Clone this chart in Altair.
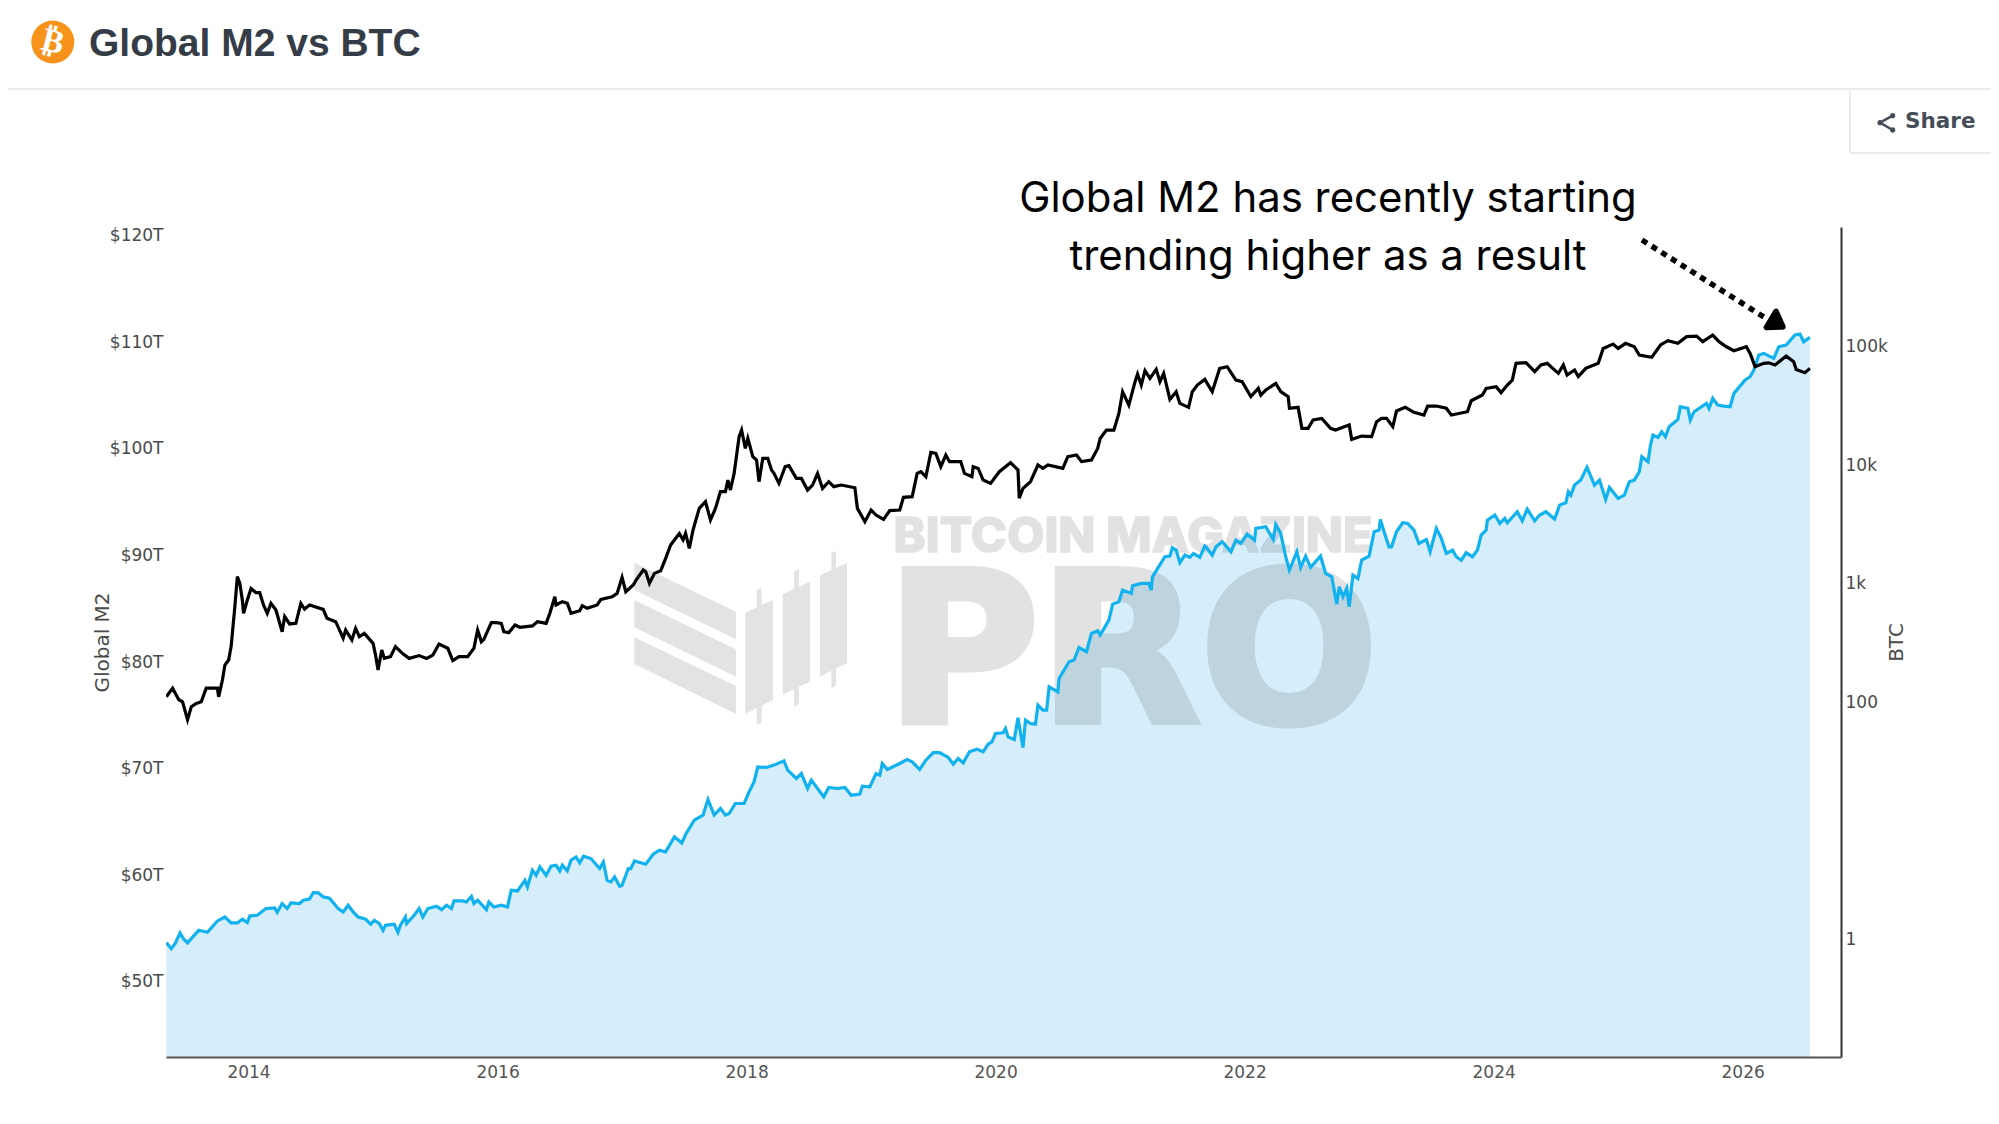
import altair as alt
import pandas as pd

# Global M2 in trillions of dollars
m2_years = [2013.34,2013.38,2013.41,2013.45,2013.48,2013.51,2013.54,2013.60,2013.67,2013.75,2013.81,2013.86,2013.91,2013.95,2013.99,
2014.01,2014.07,2014.14,2014.21,2014.23,2014.27,2014.31,2014.34,2014.41,2014.44,2014.49,2014.52,2014.56,2014.60,2014.65,2014.72,2014.76,2014.80,2014.84,2014.88,2014.94,2014.98,
2015.01,2015.05,2015.08,2015.10,2015.17,2015.20,2015.22,2015.26,2015.27,2015.33,2015.37,2015.40,2015.44,2015.51,2015.55,2015.59,2015.63,2015.65,2015.72,2015.75,2015.79,2015.81,2015.84,2015.91,2015.93,2015.97,
2016.03,2016.08,2016.11,2016.16,2016.22,2016.24,2016.28,2016.31,2016.34,2016.39,2016.43,2016.47,2016.50,2016.52,2016.56,2016.59,2016.63,2016.66,2016.69,2016.75,2016.82,2016.85,2016.88,2016.91,2016.94,2016.98,
2017.00,2017.05,2017.07,2017.10,2017.19,2017.25,2017.30,2017.35,2017.42,2017.48,2017.51,2017.58,2017.65,2017.69,2017.74,2017.79,2017.83,2017.86,2017.91,2017.98,
2018.02,2018.06,2018.09,2018.16,2018.22,2018.30,2018.33,2018.40,2018.44,2018.49,2018.52,2018.57,2018.62,2018.66,2018.73,2018.79,2018.84,2018.91,2018.93,2018.99,
2019.04,2019.07,2019.09,2019.13,2019.23,2019.29,2019.33,2019.39,2019.44,2019.50,2019.55,2019.62,2019.66,2019.70,2019.74,2019.79,2019.85,2019.90,2019.94,2019.97,
2020.00,2020.06,2020.08,2020.10,2020.15,2020.18,2020.22,2020.24,2020.28,2020.32,2020.34,2020.38,2020.41,2020.43,2020.50,2020.51,2020.59,2020.63,2020.67,2020.73,2020.77,2020.82,2020.84,2020.91,2020.94,2020.99,
2021.02,2021.09,2021.10,2021.17,2021.23,2021.25,2021.26,2021.36,2021.40,2021.42,2021.45,2021.48,2021.52,2021.56,2021.59,2021.64,2021.68,2021.69,2021.74,2021.77,2021.82,2021.89,2021.93,2021.97,
2022.02,2022.08,2022.09,2022.17,2022.23,2022.25,2022.29,2022.33,2022.36,2022.42,2022.45,2022.49,2022.53,2022.61,2022.65,2022.70,2022.74,2022.76,2022.79,2022.82,2022.84,2022.87,2022.91,2022.94,
2023.00,2023.04,2023.08,2023.09,2023.12,2023.16,2023.18,2023.22,2023.27,2023.31,2023.36,2023.40,2023.46,2023.49,2023.54,2023.58,2023.62,2023.67,2023.70,2023.74,2023.78,2023.83,2023.87,2023.90,2023.94,2023.95,
2024.01,2024.05,2024.09,2024.11,2024.19,2024.23,2024.27,2024.33,2024.37,2024.42,2024.49,2024.53,2024.58,2024.60,2024.62,2024.65,2024.70,2024.75,2024.81,2024.85,2024.90,2024.93,
2025.00,2025.05,2025.09,2025.13,2025.17,2025.19,2025.24,2025.26,2025.28,2025.32,2025.35,2025.38,2025.41,2025.48,2025.50,2025.56,2025.58,2025.61,2025.71,2025.73,2025.76,2025.80,2025.85,2025.90,2025.93,
2026.02,2026.06,2026.09,2026.13,2026.17,2026.25,2026.29,2026.35,2026.42,2026.46,2026.49,2026.54]
m2_values = [53.60,53.03,53.50,54.50,53.91,53.57,53.97,54.75,54.57,55.63,56.00,55.44,55.44,55.79,55.47,
56.10,56.16,56.79,56.85,56.44,57.26,56.79,57.32,57.26,57.57,57.69,58.29,58.26,57.88,57.76,56.79,56.47,57.10,56.47,56.00,55.79,55.32,
55.69,55.38,54.75,55.22,55.32,54.57,55.22,56.00,55.38,56.16,56.79,56.00,56.79,57.01,56.69,57.10,56.79,57.51,57.51,57.41,57.94,57.26,57.57,56.69,57.41,56.94,
57.10,56.94,58.51,58.44,59.44,58.82,60.38,59.91,60.70,59.91,60.76,60.85,60.32,60.85,60.32,61.32,61.63,61.07,61.70,61.48,60.54,61.16,59.44,59.29,59.76,58.88,
58.98,60.54,60.54,61.26,60.95,61.88,62.26,62.10,63.51,62.95,63.73,65.08,65.55,67.01,65.55,66.17,65.55,65.70,66.64,66.64,
67.73,68.67,70.08,70.02,70.24,70.64,69.77,68.99,69.45,68.05,68.83,68.05,67.27,68.14,68.05,68.14,67.42,67.52,68.27,68.20,
69.45,69.30,70.39,69.83,70.39,70.77,70.55,69.83,70.70,71.42,71.42,70.96,70.33,70.86,70.45,71.49,71.74,71.49,72.21,72.42,
73.21,73.27,73.68,72.89,72.64,74.68,71.89,74.46,74.14,74.08,75.86,75.40,75.40,77.58,77.11,78.37,79.93,80.09,81.27,80.87,82.59,82.84,82.43,83.84,85.34,85.56,
86.65,86.34,87.06,87.28,87.28,86.65,87.90,89.78,89.84,90.62,90.40,89.22,89.94,89.72,90.09,89.72,90.78,90.71,89.93,90.71,91.18,90.25,91.34,91.03,
91.90,91.34,92.43,92.59,91.40,92.81,91.97,89.78,88.53,90.25,88.78,89.84,88.78,89.84,88.21,87.90,85.34,86.96,86.02,86.81,85.09,88.06,87.74,89.46,
89.84,92.12,92.28,93.28,92.12,90.71,90.71,92.12,92.97,92.90,92.28,91.03,91.40,90.25,92.43,91.50,90.09,90.40,89.78,89.46,90.15,89.78,90.40,91.81,92.28,93.22,
93.69,92.90,93.37,92.97,94.00,93.15,94.25,93.15,93.69,94.00,93.31,94.62,94.84,95.87,95.56,96.50,96.97,98.16,96.50,96.97,95.16,96.28,
95.25,95.56,96.81,96.97,97.75,99.16,98.69,100.25,101.19,100.97,101.50,101.03,101.97,102.66,103.85,103.69,102.60,103.38,104.16,103.69,104.63,104.00,103.91,103.85,105.10,
106.35,106.66,107.30,108.69,108.85,108.38,109.47,109.63,110.57,110.66,109.94,110.35]

# BTC price in dollars
btc_years = [2013.34,2013.39,2013.44,2013.47,2013.51,2013.54,2013.58,2013.62,2013.66,2013.75,2013.76,2013.79,2013.81,2013.84,2013.86,2013.89,2013.91,2013.93,2013.95,2013.96,2013.99,
2014.02,2014.06,2014.09,2014.12,2014.15,2014.18,2014.22,2014.27,2014.29,2014.33,2014.38,2014.42,2014.45,2014.49,2014.60,2014.63,2014.70,2014.76,2014.78,2014.83,2014.86,2014.89,2014.93,
2015.00,2015.02,2015.04,2015.07,2015.09,2015.14,2015.18,2015.24,2015.29,2015.37,2015.43,2015.48,2015.53,2015.60,2015.64,2015.69,2015.76,2015.81,2015.84,2015.87,2015.89,2015.95,2015.99,
2016.03,2016.05,2016.09,2016.14,2016.18,2016.28,2016.32,2016.39,2016.42,2016.46,2016.47,2016.52,2016.56,2016.59,2016.66,2016.68,2016.72,2016.80,2016.83,2016.92,2016.96,
2017.00,2017.03,2017.09,2017.11,2017.17,2017.19,2017.22,2017.26,2017.31,2017.35,2017.39,2017.42,2017.46,2017.49,2017.51,2017.54,2017.57,2017.62,2017.67,2017.71,2017.75,2017.79,2017.83,2017.85,2017.87,2017.90,2017.94,2017.96,2017.99,
2018.01,2018.05,2018.08,2018.10,2018.13,2018.17,2018.20,2018.22,2018.26,2018.31,2018.34,2018.40,2018.44,2018.49,2018.53,2018.57,2018.61,2018.66,2018.70,2018.76,2018.87,2018.89,2018.92,2018.95,
2019.00,2019.04,2019.10,2019.15,2019.23,2019.26,2019.33,2019.37,2019.40,2019.44,2019.48,2019.52,2019.56,2019.60,2019.63,2019.72,2019.75,2019.81,2019.82,2019.86,2019.90,2019.96,
2020.03,2020.12,2020.18,2020.19,2020.22,2020.28,2020.34,2020.38,2020.42,2020.54,2020.58,2020.65,2020.69,2020.77,2020.82,2020.84,2020.89,2020.95,2020.99,
2021.02,2021.07,2021.12,2021.14,2021.17,2021.20,2021.24,2021.29,2021.32,2021.35,2021.40,2021.45,2021.48,2021.55,2021.58,2021.62,2021.68,2021.74,2021.80,2021.86,2021.93,2021.98,
2022.05,2022.11,2022.13,2022.17,2022.25,2022.29,2022.35,2022.36,2022.43,2022.46,2022.51,2022.55,2022.62,2022.69,2022.73,2022.84,2022.86,2022.94,
2023.02,2023.06,2023.10,2023.14,2023.19,2023.22,2023.29,2023.36,2023.44,2023.47,2023.54,2023.62,2023.66,2023.79,2023.82,2023.91,2023.94,
2024.02,2024.06,2024.11,2024.15,2024.18,2024.26,2024.33,2024.38,2024.43,2024.52,2024.56,2024.59,2024.65,2024.68,2024.74,2024.84,2024.88,2024.96,
2025.00,2025.06,2025.13,2025.17,2025.27,2025.34,2025.40,2025.48,2025.55,2025.63,2025.68,2025.76,2025.81,2025.87,2025.93,
2026.03,2026.06,2026.10,2026.17,2026.21,2026.26,2026.35,2026.41,2026.43,2026.50,2026.54]
btc_values = [109,129,103,99,70,90,96,99,129,129,109,151,202,223,289,628,1125,988,714,552,714,
895,824,824,649,552,670,589,386,518,449,454,670,600,649,596,501,469,340,399,329,412,351,374,
308,245,184,271,230,238,289,251,230,243,230,245,304,280,220,238,238,280,399,318,333,460,460,
454,386,379,440,421,432,469,454,552,762,649,692,670,552,581,640,608,649,724,762,813,
1109,840,957,1040,1279,1239,988,1199,1262,1603,2080,2291,2600,2300,2606,1950,2786,4236,4820,3381,4236,5861,5861,7345,6053,8356,17020,19410,13580,
16480,11560,10840,7112,11190,11190,8913,8356,6887,9528,9705,7586,7586,6053,6668,8356,6252,7112,6457,6668,6324,4236,3724,3273,
4102,3724,3420,4055,4102,5248,5321,8356,8630,7834,12560,12330,9528,11940,10500,10500,8356,7834,9528,9204,7345,6887,
8630,10280,8913,5152,6252,7112,9840,9204,9840,9204,11560,11940,10500,10840,13580,16480,19360,19360,26790,
40830,31480,49550,57540,46450,61380,52840,62950,49550,58210,35160,40830,32510,30130,40830,46450,51880,40830,64270,66370,51170,49550,
37070,43550,38280,42170,47970,40830,37070,29580,30130,20040,20040,23550,24320,20040,19410,21380,16180,17260,
17060,22800,24320,24320,20700,28050,30130,27350,25940,30900,30900,29580,25940,27670,34280,38280,43550,
44980,40090,46450,51170,70790,71780,60260,68550,70790,58340,68550,56490,62230,54700,64270,70790,94620,103000,
94620,104500,97720,83180,79620,101200,109900,104500,118900,120200,107900,122700,107900,97720,90570,
97830,85900,66370,70790,71500,68500,81500,73100,62900,59000,64200]

m2_ticks = [50,60,70,80,90,100,110,120]
btc_ticks = [1,100,1000,10000,100000]
year_ticks = [2014,2016,2018,2020,2022,2024,2026]

title_text = "Global M2 vs BTC"
note_lines = ["Global M2 has recently starting", "trending higher as a result"]

LEFT, TOP, W, H = 166, 227, 1675, 830
YEAR_DOMAIN = [2013.337, 2026.79]
M2_DOMAIN = [42.87, 120.7]
BTC_DOMAIN = [0.1, 1000000]
LABEL = "#4a4a4a"

m2_df = pd.DataFrame({"year": m2_years, "m2": m2_values})
btc_df = pd.DataFrame({"year": btc_years, "btc": btc_values})

x_enc = alt.X("year:Q", scale=alt.Scale(domain=YEAR_DOMAIN, nice=False, zero=False), title=None,
              axis=alt.Axis(values=year_ticks, format="d", grid=False, ticks=False, labelFontSize=17,
                            labelColor="#555555", labelPadding=7, domainColor="#555555", domainWidth=2,
                            labelFlush=False, zindex=1))
m2_scale = alt.Scale(domain=M2_DOMAIN, nice=False, zero=False)

area = alt.Chart(m2_df).mark_area(color="#d6eefb", clip=True).encode(
    x=x_enc,
    y=alt.Y("m2:Q", scale=m2_scale, title="Global M2",
            axis=alt.Axis(values=m2_ticks, labelExpr="'$' + datum.value + 'T'", grid=False, ticks=False, domain=False,
                          labelFontSize=17, labelColor=LABEL, labelPadding=3, labelOffset=1, titleFontSize=20,
                          titleFontWeight="normal", titleColor=LABEL, titlePadding=-3)),
    y2=alt.value(H),
)
blue_line = alt.Chart(m2_df).mark_line(color="#12b2ee", strokeWidth=3.2, clip=True).encode(
    x=x_enc, y=alt.Y("m2:Q", scale=m2_scale, axis=None))
black_line = alt.Chart(btc_df).mark_line(color="#000000", strokeWidth=3.2, clip=True).encode(
    x=x_enc,
    y=alt.Y("btc:Q", scale=alt.Scale(type="log", domain=BTC_DOMAIN, nice=False), title="BTC",
            axis=alt.Axis(orient="right", values=btc_ticks, format="~s", grid=False, ticks=False, labelFontSize=17,
                          labelColor=LABEL, labelPadding=4, labelOffset=1, domainColor="#333333", domainWidth=2,
                          titleFontSize=20, titleFontWeight="normal", titleColor=LABEL, titleAngle=270, titlePadding=19)))


def px(v):
    return v - LEFT


def py(v):
    return v - TOP


def text(s, x, y, size, font="DejaVu Sans", weight="normal", color="#000000", align="center", opacity=1.0, angle=0, stroke=0):
    opts = {}
    if stroke:
        opts = {"stroke": color, "strokeWidth": stroke}
    return alt.Chart(pd.DataFrame({"t": [s]})).mark_text(
        font=font, fontSize=size, fontWeight=weight, color=color, align=align, baseline="middle",
        opacity=opacity, angle=angle, **opts).encode(text="t:N", x=alt.value(px(x)), y=alt.value(py(y)))


def rule(x1, y1, x2, y2, color, width, dash=None):
    opts = {"color": color, "strokeWidth": width}
    if dash:
        opts["strokeDash"] = dash
    return alt.Chart(pd.DataFrame({"a": [0]})).mark_rule(**opts).encode(
        x=alt.value(px(x1)), x2=alt.value(px(x2)), y=alt.value(py(y1)), y2=alt.value(py(y2)))


def shape(path, x, y, color, filled=True, opacity=1.0, stroke_width=0):
    opts = {"fill": color} if filled else {"filled": False}
    if stroke_width:
        opts["stroke"] = color
        opts["strokeWidth"] = stroke_width
        opts["strokeJoin"] = "round"
    else:
        opts["strokeWidth"] = 0
    return alt.Chart(pd.DataFrame({"a": [0]})).mark_point(
        shape=path, size=4 / 9, opacity=opacity, **opts).encode(x=alt.value(px(x)), y=alt.value(py(y)))


def dot(x, y, r):
    return f"M{x-r} {y}a{r} {r} 0 1 0 {2*r} 0a{r} {r} 0 1 0 {-2*r} 0Z"


mark_path = (
    "M43 68L348 215L348 298L43 150Z M43 180L348 328L348 410L43 262Z M43 292L348 438L348 522L43 372Z "
    "M376 218L410 202L410 150L425 145L425 195L459 180L459 480L425 497L425 548L410 555L410 505L376 522Z "
    "M488 162L522 146L522 94L537 88L537 140L570 125L570 425L537 440L537 492L522 500L522 448L488 465Z "
    "M600 106L634 90L634 38L648 33L648 84L681 68L681 370L648 385L648 438L634 445L634 392L600 410Z"
)
WM = 0.11
watermark = [
    shape(mark_path, 620, 540, "#000000", opacity=WM),
    text("BITCOIN MAGAZINE", 1133, 537, 48.5, font="Inter", weight=800, opacity=WM, stroke=1.5),
    text("PRO", 1132, 659, 209, font="DejaVu Sans", weight="bold", opacity=WM, stroke=7),
]

decor = [
    rule(0, 89, 2000, 89, "#ebebeb", 2),
    rule(1850, 89, 1850, 153, "#ebebeb", 2),
    rule(1850, 153, 2000, 153, "#ebebeb", 2),
    alt.Chart(pd.DataFrame({"a": [0]})).mark_point(shape="circle", size=1849, filled=True, color="#f7931a", opacity=1).encode(
        x=alt.value(px(52.8)), y=alt.value(py(42))),
    text("\u20bf", 52.8, 42, 33, weight="bold", color="#ffffff", angle=14),
    text(title_text, 89, 44, 39, font="Liberation Sans", weight="bold", color="#343c47", align="left"),
    shape("M1178 107L1140 128L1178 150", 1500, 80, "#454d59", filled=False, stroke_width=2.5),
    shape(dot(1178, 107, 8) + dot(1140, 128, 8) + dot(1178, 150, 8), 1500, 80, "#454d59"),
    text("Share", 1905, 122, 21.5, weight="bold", color="#454d59", align="left"),
    text(note_lines[0], 1328, 199, 41.9, font="Inter"),
    text(note_lines[1], 1328, 257, 41.9, font="Inter"),
    rule(1642, 240, 1767, 319, "#000000", 5.5, dash=[6, 5.5]),
    shape("M828 695L800 742L848 740Z", 1500, 80, "#000000", stroke_width=6),
]

chart = alt.layer(area, *watermark, blue_line, black_line, *decor).resolve_scale(y="independent").properties(
    width=W, height=H,
    autosize=alt.AutoSizeParams(type="none"),
    padding={"left": LEFT - 8, "top": TOP - 8, "right": 1983 - (LEFT - 8) - W, "bottom": 1100 - (TOP - 8) - H},
).configure_view(stroke=None).configure_axis(labelFont="DejaVu Sans", titleFont="DejaVu Sans")

chart.save("out.html", embed_options={"renderer": "svg", "actions": False})
